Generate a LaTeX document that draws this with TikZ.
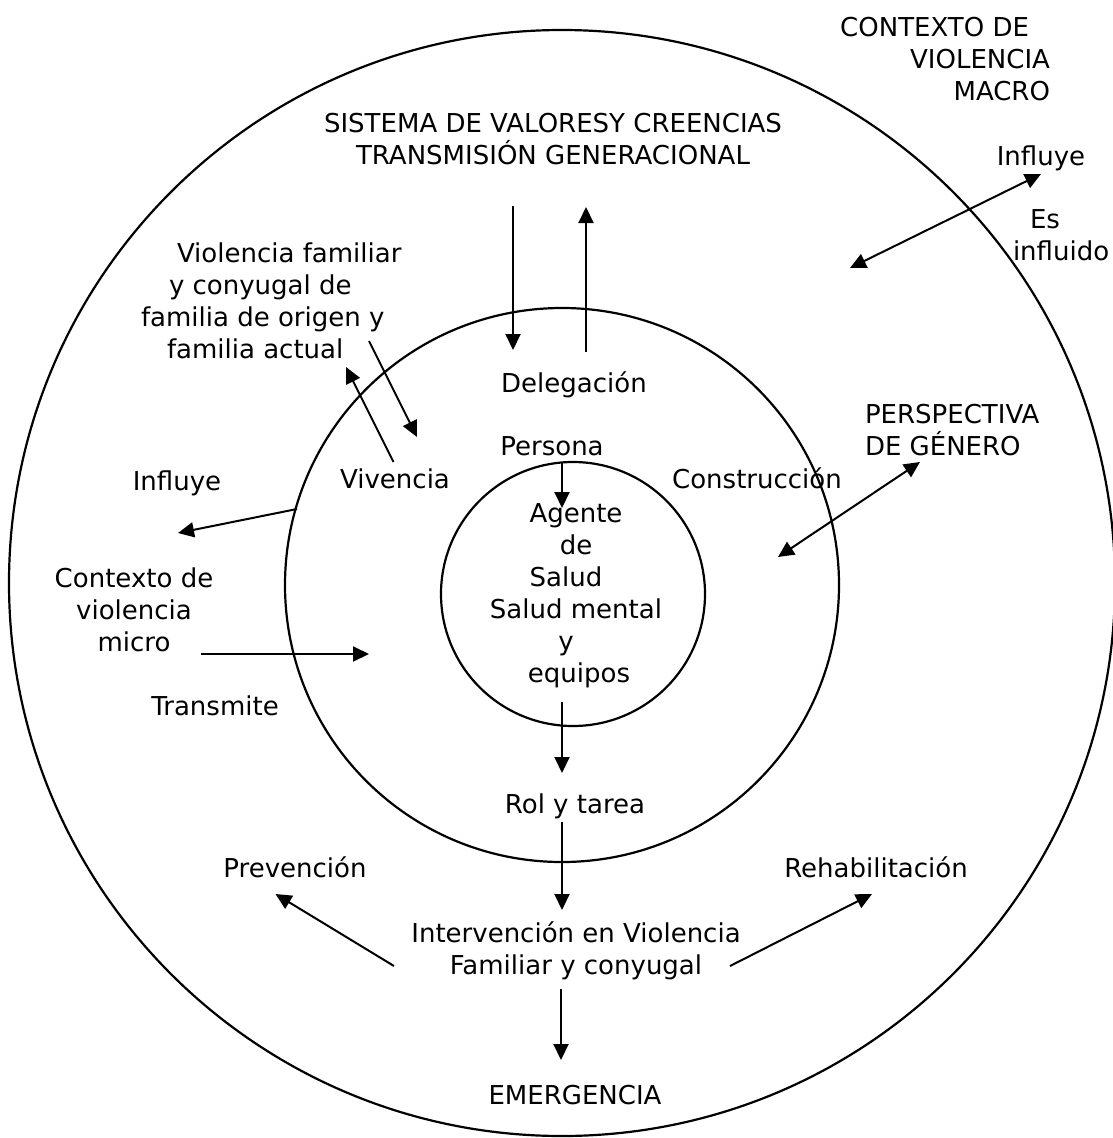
\documentclass[tikz,border=0pt]{standalone}
\usepackage{fontspec}
\setmainfont{DejaVu Sans}
\usetikzlibrary{arrows.meta}
\newcommand\hgapx[1]{\rule{#1}{0pt}}
\begin{document}
\begin{tikzpicture}[x=1pt,y=-1pt,
  lbl/.style={inner sep=0pt, outer sep=0pt, font=\fontsize{26}{32}\selectfont},
  ring/.style={draw, line width=2.2pt},
  arr/.style={line width=2pt, -{Triangle[length=16pt,width=15pt]}},
  darr/.style={line width=2pt, {Triangle[length=16pt,width=15pt]}-{Triangle[length=16pt,width=15pt]}}]
\useasboundingbox (0,0) rectangle (1113,1138);
% rings
\draw[ring] (562,583) circle[radius=553pt];
\draw[ring] (562,585) circle[radius=277pt];
\draw[ring] (573,594) circle[radius=132pt];
% texts (multi-line nodes: base = baseline of last line)
\node[lbl, anchor=base east, align=right] (macro) at (1050,100) {CONTEXTO DE\hgapx{21pt}\\VIOLENCIA\\MACRO};
\node[lbl, anchor=base, align=center] (sistema) at (553,164) {SISTEMA DE VALORESY CREENCIAS\\TRANSMISIÓN GENERACIONAL};
\node[lbl, anchor=base] (influyeA) at (1041,165) {Influye};
\node[lbl, anchor=base west, align=left] (esinf) at (1013,260) {\hgapx{17pt}Es\\influido};
\node[lbl, anchor=base west, align=left] (violfam) at (141,358) {\hgapx{36pt}Violencia familiar\\\hgapx{28pt}y conyugal de\\familia de origen y\\\hgapx{26pt}familia actual};
\node[lbl, anchor=base] (deleg) at (574,392) {Delegación};
\node[lbl, anchor=base] (persona) at (552,455) {Persona};
\node[lbl, anchor=base] (vivencia) at (395,488) {Vivencia};
\node[lbl, anchor=base] (constr) at (757,488) {Construcción};
\node[lbl, anchor=base west, align=left] (persp) at (865,455) {PERSPECTIVA\\DE GÉNERO};
\node[lbl, anchor=base, align=center] (agente) at (576,682) {Agente\\de\\Salud\hgapx{20pt}\\Salud mental\\y\hgapx{20pt}\\\hgapx{6pt}equipos};
\node[lbl, anchor=base] (rol) at (575,813) {Rol y tarea};
\node[lbl, anchor=base] (prev) at (295,877) {Prevención};
\node[lbl, anchor=base] (rehab) at (876,877) {Rehabilitación};
\node[lbl, anchor=base, align=center] (interv) at (576,974) {Intervención en Violencia\\Familiar y conyugal};
\node[lbl, anchor=base] (emerg) at (575,1104) {EMERGENCIA};
\node[lbl, anchor=base] (influyeB) at (177,490) {Influye};
\node[lbl, anchor=base, align=center] (ctxmicro) at (134,651) {Contexto de\\violencia\\micro};
\node[lbl, anchor=base] (transm) at (215,715) {Transmite};
% arrow end points
\coordinate (a1s) at (513,206); \coordinate (a1e) at (513,350);
\coordinate (a2s) at (586,352); \coordinate (a2e) at (586,207);
\coordinate (a3s) at (369,341); \coordinate (a3e) at (417,437);
\coordinate (a4s) at (393.5,462); \coordinate (a4e) at (346,367);
\coordinate (a5s) at (562,463); \coordinate (a5e) at (562,508);
\coordinate (a6s) at (562,702); \coordinate (a6e) at (562,773);
\coordinate (a7s) at (562,822); \coordinate (a7e) at (562,910);
\coordinate (a8s) at (394,966); \coordinate (a8e) at (275.5,894);
\coordinate (a9s) at (730,966); \coordinate (a9e) at (872,894);
\coordinate (a10s) at (561,989); \coordinate (a10e) at (561,1060);
\coordinate (a11s) at (297,509); \coordinate (a11e) at (178,533);
\coordinate (a12s) at (201,654); \coordinate (a12e) at (369,654);
\coordinate (d1a) at (850,268); \coordinate (d1b) at (1041,174);
\coordinate (d2a) at (778,557); \coordinate (d2b) at (920,462);
% arrows
\draw[arr] (a1s) -- (a1e);
\draw[arr] (a2s) -- (a2e);
\draw[arr] (a3s) -- (a3e);
\draw[arr] (a4s) -- (a4e);
\draw[arr] (a5s) -- (a5e);
\draw[arr] (a6s) -- (a6e);
\draw[arr] (a7s) -- (a7e);
\draw[arr] (a8s) -- (a8e);
\draw[arr] (a9s) -- (a9e);
\draw[arr] (a10s) -- (a10e);
\draw[arr] (a11s) -- (a11e);
\draw[arr] (a12s) -- (a12e);
\draw[darr] (d1a) -- (d1b);
\draw[darr] (d2a) -- (d2b);
\end{tikzpicture}
\end{document}
